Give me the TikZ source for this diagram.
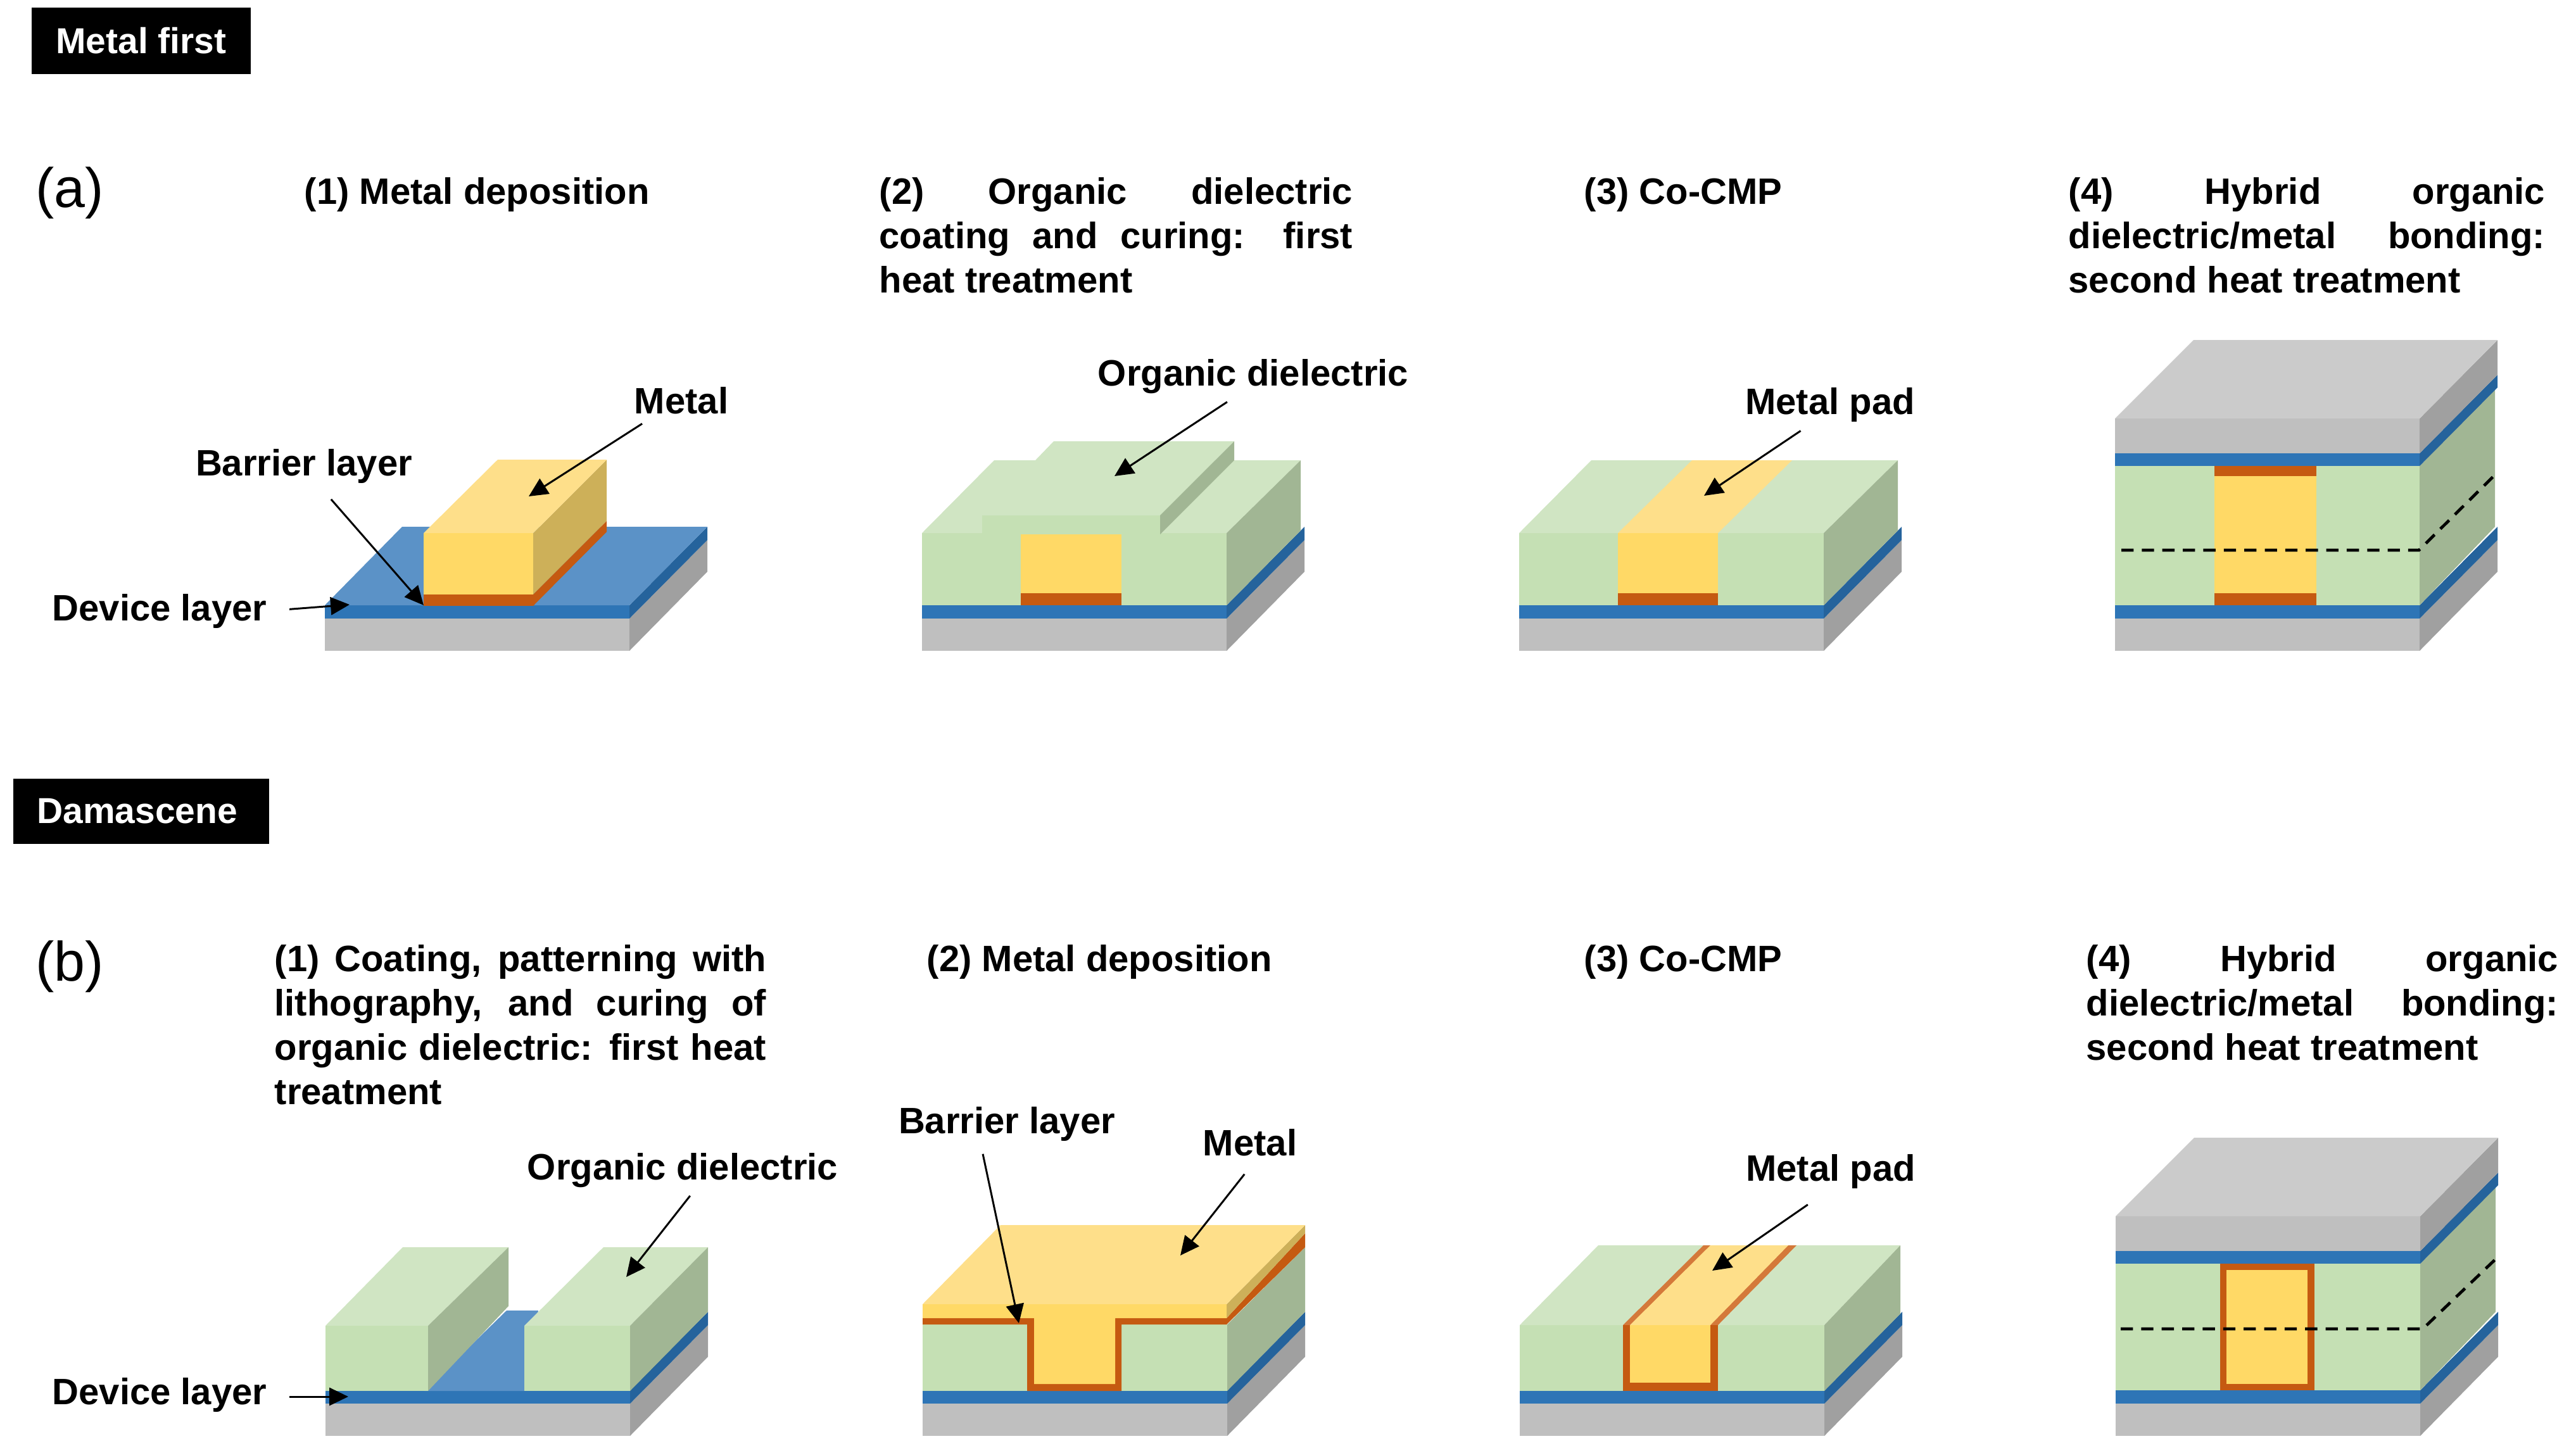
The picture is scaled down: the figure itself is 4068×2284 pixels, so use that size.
\documentclass[tikz,border=0pt]{standalone}
\usepackage{fontspec}
\setmainfont{Liberation Sans}
\usetikzlibrary{arrows.meta}
\definecolor{grayfront}{HTML}{BFBFBF}
\definecolor{grayside}{HTML}{A0A0A0}
\definecolor{graytop}{HTML}{CBCBCB}
\definecolor{bluefront}{HTML}{2E75B6}
\definecolor{bluetop}{HTML}{5B92C7}
\definecolor{blueside}{HTML}{25639C}
\definecolor{greenfront}{HTML}{C5E0B4}
\definecolor{greentop}{HTML}{D0E5C3}
\definecolor{greenside}{HTML}{A1B694}
\definecolor{metalfront}{HTML}{FFD966}
\definecolor{metaltop}{HTML}{FEDF8A}
\definecolor{metalside}{HTML}{CDB059}
\definecolor{barrier}{HTML}{C55A11}
\definecolor{barriertop}{HTML}{D4793A}
\hyphenpenalty=10000
\exhyphenpenalty=10000
\tolerance=9999
\tikzset{
  steptitle/.style={anchor=north west,inner sep=0pt,align=justify,
    font=\fontsize{16.5}{19.9}\selectfont\bfseries},
  partlabel/.style={font=\fontsize{16.5}{19.9}\selectfont\bfseries,inner sep=0pt},
  panellabel/.style={font=\fontsize{25}{28}\selectfont,inner sep=0pt},
  routetag/.style={fill=black,text=white,inner sep=0pt,
    font=\fontsize{16.2}{19}\selectfont\bfseries},
  callout/.style={line width=0.85pt,-{Triangle[length=8.5pt,width=8pt]}},
  cutline/.style={line width=1.35pt,dash pattern=on 5.5pt off 3.7pt}
}
\begin{document}
\begin{tikzpicture}[x=0.01cm,y=-0.01cm]
  \useasboundingbox (0,0) rectangle (4068,2284);

  \node[routetag,minimum width=3.46cm,minimum height=1.05cm] (tagmetal) at (223,64.5) {Metal first};
  \node[routetag,minimum width=4.04cm,minimum height=1.03cm] (tagdama) at (223,1281.5) {Damascene\kern3.5pt};
  \node[panellabel] (panela) at (110,305) {(a)};
  \node[panellabel] (panelb) at (110,1527) {(b)};

  \node[steptitle] (titlea1) at (480,280) {(1) Metal deposition};
  \node[steptitle,text width=7.47cm] (titlea2) at (1388,280) {(2) Organic dielectric coating and curing: first heat treatment};
  \node[steptitle] (titlea3) at (2501,280) {(3) Co-CMP};
  \node[steptitle,text width=7.52cm] (titlea4) at (3266,280) {(4) Hybrid organic dielectric/metal bonding: second heat treatment};

  \node[steptitle,text width=7.76cm] (titleb1) at (433,1492) {(1) Coating, patterning with lithography, and curing of organic dielectric: first heat treatment};
  \node[steptitle] (titleb2) at (1463,1492) {(2) Metal deposition};
  \node[steptitle] (titleb3) at (2501,1492) {(3) Co-CMP};
  \node[steptitle,text width=7.45cm] (titleb4) at (3294,1492) {(4) Hybrid organic dielectric/metal bonding: second heat treatment};

  \foreach \x/\y in {513/1028,1456/1028,2399/1028,3340/1028,514/2268,1457/2268,2400/2268,3341/2268}{
    \fill[grayfront] (\x,\y) rectangle (\x+481,\y-51);
    \fill[bluefront] (\x,\y-51) rectangle (\x+481,\y-72);
    \fill[grayside] (\x+481,\y) -- (\x+604,\y-125) -- (\x+604,\y-175) -- (\x+481,\y-51) -- cycle;
    \fill[blueside] (\x+481,\y-51) -- (\x+604,\y-175) -- (\x+604,\y-196) -- (\x+481,\y-72) -- cycle;
  }

  \fill[bluetop] (513,956) -- (635,832) -- (1117,832) -- (994,956) -- cycle;
  \fill[metalside] (842,842) -- (958,726) -- (958,823) -- (842,939) -- cycle;
  \fill[barrier] (842,939) -- (958,823) -- (958,840) -- (842,957) -- cycle;
  \fill[metaltop] (669,842) -- (786,726) -- (958,726) -- (842,842) -- cycle;
  \fill[metalfront] (669,842) rectangle (842,939);
  \fill[barrier] (669,939) rectangle (842,957);

  \foreach \x in {1456,2399}{
    \fill[greenfront] (\x,842) rectangle (\x+481,956);
    \fill[greentop] (\x,842) -- (\x+114,727) -- (\x+598,727) -- (\x+481,842) -- cycle;
    \fill[greenside] (\x+481,842) -- (\x+598,727) -- (\x+598,838) -- (\x+481,956) -- cycle;
  }
  \fill[greenfront] (1551,814) rectangle (1832,843);
  \fill[greentop] (1551,814) -- (1664,697) -- (1949,697) -- (1832,814) -- cycle;
  \fill[greenside] (1832,814) -- (1949,697) -- (1949,727) -- (1832,844) -- cycle;
  \fill[metalfront] (1612,844) rectangle (1771,937);
  \fill[barrier] (1612,937) rectangle (1771,956);

  \fill[metaltop] (2555,842) -- (2672,727) -- (2830,727) -- (2713,842) -- cycle;
  \fill[metalfront] (2555,842) rectangle (2713,937);
  \fill[barrier] (2555,937) rectangle (2713,956);

  \foreach \x/\y/\h in {3340/1028/292,3341/2268/272}{
    \fill[greenfront] (\x,\y-72) rectangle (\x+481,\y-\h);
    \fill[greenside] (\x+481,\y-72) -- (\x+600,\y-196) -- (\x+600,\y-\h-124) -- (\x+481,\y-\h) -- cycle;
    \fill[bluefront] (\x,\y-\h) rectangle (\x+481,\y-\h-20);
    \fill[blueside] (\x+481,\y-\h) -- (\x+604,\y-\h-124) -- (\x+604,\y-\h-144) -- (\x+481,\y-\h-20) -- cycle;
    \fill[grayfront] (\x,\y-\h-20) rectangle (\x+481,\y-\h-75);
    \fill[grayside] (\x+481,\y-\h-20) -- (\x+604,\y-\h-144) -- (\x+604,\y-\h-199) -- (\x+481,\y-\h-75) -- cycle;
    \fill[graytop] (\x,\y-\h-75) -- (\x+124,\y-\h-199) -- (\x+604,\y-\h-199) -- (\x+481,\y-\h-75) -- cycle;
  }
  \fill[metalfront] (3497,736) rectangle (3658,956);
  \fill[barrier] (3497,736) rectangle (3658,752);
  \fill[barrier] (3497,937) rectangle (3658,956);
  \draw[cutline] (3350,869) -- (3820,869) -- (3943,747);

  \fill[bluetop] (670,2197) -- (800,2070) -- (850,2070) -- (828,2197) -- cycle;
  \fill[greentop] (514,2094) -- (636,1970) -- (803,1970) -- (676,2094) -- cycle;
  \fill[greenside] (676,2094) -- (803,1970) -- (803,2063) -- (676,2197) -- cycle;
  \fill[greenfront] (514,2094) rectangle (676,2197);
  \fill[greentop] (828,2094) -- (953,1970) -- (1118,1970) -- (995,2094) -- cycle;
  \fill[greenside] (995,2094) -- (1118,1970) -- (1118,2072) -- (995,2197) -- cycle;
  \fill[greenfront] (828,2094) rectangle (995,2197);

  \fill[greenfront] (1457,2092) rectangle (1938,2197);
  \fill[greenside] (1938,2092) -- (2061,1970) -- (2061,2072) -- (1938,2197) -- cycle;
  \fill[barrier] (1937,2082) -- (2061,1948) -- (2061,1970) -- (1937,2092) -- cycle;
  \fill[metalside] (1937,2060) -- (2061,1935) -- (2061,1948) -- (1937,2082) -- cycle;
  \fill[metaltop] (1457,2060) -- (1580,1935) -- (2061,1935) -- (1937,2060) -- cycle;
  \fill[barrier] (1457,2082) -- (1937,2082) -- (1937,2092) -- (1771,2092) -- (1771,2197)
    -- (1622,2197) -- (1622,2092) -- (1457,2092) -- cycle;
  \fill[metalfront] (1457,2060) -- (1937,2060) -- (1937,2082) -- (1761,2082) -- (1761,2186)
    -- (1633,2186) -- (1633,2082) -- (1457,2082) -- cycle;

  \fill[greenfront] (2400,2093) rectangle (2881,2197);
  \fill[greentop] (2400,2093) -- (2524,1967) -- (3001,1967) -- (2881,2093) -- cycle;
  \fill[greenside] (2881,2093) -- (3001,1967) -- (3001,2075) -- (2881,2197) -- cycle;
  \fill[barriertop] (2563,2093) -- (2690,1967) -- (2837,1967) -- (2713,2093) -- cycle;
  \fill[metaltop] (2574,2093) -- (2701,1967) -- (2824,1967) -- (2701,2093) -- cycle;
  \fill[barrier] (2563,2093) rectangle (2713,2197);
  \fill[metalfront] (2574,2093) rectangle (2701,2184);

  \fill[barrier] (3506,1996) rectangle (3655,2196);
  \fill[metalfront] (3516,2006) rectangle (3644,2186);
  \draw[cutline] (3349,2099) -- (3826,2099) -- (3946,1984);

  \node[partlabel] (metala) at (1076,633) {Metal};
  \node[partlabel] (barriera) at (480,736) {Barrier layer};
  \node[partlabel] (devicea) at (252,965) {Device layer};
  \node[partlabel] (organica) at (1979,595) {Organic dielectric};
  \node[partlabel] (pada) at (2890,639) {Metal pad};
  \node[partlabel] (organicb) at (1078,1849) {Organic dielectric};
  \node[partlabel] (deviceb) at (252,2203) {Device layer};
  \node[partlabel] (barrierb) at (1590,1775) {Barrier layer};
  \node[partlabel] (metalb) at (1974,1805) {Metal};
  \node[partlabel] (padb) at (2891,1850) {Metal pad};

  \coordinate (tipmetala) at (835,784);
  \coordinate (tipbarriera) at (669,956);
  \coordinate (tipdevicea) at (552,955);
  \coordinate (tiporganica) at (1760,752);
  \coordinate (tippada) at (2691,783);
  \coordinate (tiporganicb) at (989,2017);
  \coordinate (tipdeviceb) at (550,2206);
  \coordinate (tipbarrierb) at (1609,2090);
  \coordinate (tipmetalb) at (1864,1983);
  \coordinate (tippadb) at (2704,2007);

  \draw[callout,shorten <=7.5pt] ([xshift=-11.3pt]metala.south) -- (tipmetala);
  \draw[callout,shorten <=9.4pt] ([xshift=6pt]barriera.south) -- (tipbarriera);
  \draw[callout,shorten <=10pt] (devicea.east) -- (tipdevicea);
  \draw[callout,shorten <=6.2pt] ([xshift=-6.5pt]organica.south) -- (tiporganica);
  \draw[callout,shorten <=7pt] ([xshift=-7.4pt]pada.south) -- (tippada);
  \draw[callout,shorten <=4.3pt] ([xshift=6pt]organicb.south) -- (tiporganicb);
  \draw[callout,shorten <=10pt] (deviceb.east |- tipdeviceb) -- (tipdeviceb);
  \draw[callout,shorten <=5.8pt] ([xshift=-12pt]barrierb.south) -- (tipbarrierb);
  \draw[callout,shorten <=10pt] ([xshift=3.7pt]metalb.south) -- (tipmetalb);
  \draw[callout,shorten <=12.5pt] (padb.south) -- (tippadb);
\end{tikzpicture}
\end{document}
